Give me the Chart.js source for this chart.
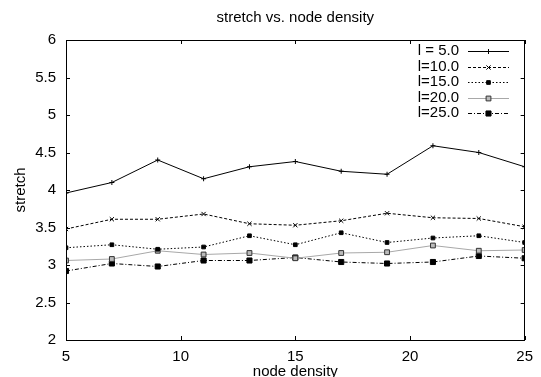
<!DOCTYPE html>
<html>
<head>
<meta charset="utf-8">
<script src="https://cdn.jsdelivr.net/npm/chart.js@4/dist/chart.umd.min.js"></script>
<style>
  html, body { margin: 0; padding: 0; background: #fff; }
  #wrap { width: 541px; height: 377px; }
</style>
</head>
<body>
<div id="wrap"><canvas id="c" width="541" height="377"></canvas></div>
<script>
const nodeDensity = [5, 7, 9, 11, 13, 15, 17, 19, 21, 23, 25];
const seriesLabels = ['l = 5.0', 'l=10.0', 'l=15.0', 'l=20.0', 'l=25.0'];
const l5  = [3.96, 4.10, 4.40, 4.15, 4.31, 4.38, 4.25, 4.21, 4.59, 4.50, 4.31];
const l10 = [3.48, 3.61, 3.61, 3.68, 3.55, 3.53, 3.59, 3.69, 3.63, 3.62, 3.51];
const l15 = [3.23, 3.27, 3.21, 3.24, 3.39, 3.27, 3.43, 3.30, 3.36, 3.39, 3.30];
const l20 = [3.06, 3.08, 3.19, 3.14, 3.16, 3.09, 3.16, 3.17, 3.26, 3.19, 3.20];
const l25 = [2.92, 3.02, 2.98, 3.06, 3.06, 3.10, 3.04, 3.02, 3.04, 3.12, 3.09];
const yTicks = [2, 2.5, 3, 3.5, 4, 4.5, 5, 5.5, 6];
const xTicks = [5, 10, 15, 20, 25];
const titleText = 'stretch vs. node density';
const xTitle = 'node density';
const yTitle = 'stretch';

const FONT = 'Liberation Sans, Arial, Helvetica, sans-serif';
const pts = arr => arr.map((v, i) => ({ x: nodeDensity[i], y: v }));

const styles = [
  { borderColor: '#000', borderDash: [], pointStyle: 'cross', pointRadius: 2.5, pointBackgroundColor: '#000', pointBorderColor: '#000' },
  { borderColor: '#000', borderDash: [3, 2], pointStyle: 'crossRot', pointRadius: 3, pointBackgroundColor: '#000', pointBorderColor: '#000' },
  { borderColor: '#000', borderDash: [1.5, 2], pointStyle: 'rect', pointRadius: 2.6, pointBackgroundColor: '#000', pointBorderColor: '#000' },
  { borderColor: '#a8a8a8', borderDash: [], pointStyle: 'rect', pointRadius: 3.4, pointBackgroundColor: '#bbb', pointBorderColor: '#333' },
  { borderColor: '#000', borderDash: [4, 2, 1, 2], pointStyle: 'rect', pointRadius: 3.6, pointBackgroundColor: '#000', pointBorderColor: '#000' }
];
const seriesData = [l5, l10, l15, l20, l25];

const datasets = seriesData.map((d, i) => Object.assign({
  label: seriesLabels[i],
  data: pts(d),
  borderWidth: 1,
  pointBorderWidth: 1,
  pointHoverRadius: 3,
  tension: 0,
  fill: false
}, styles[i]));

const frame = {
  id: 'frame',
  afterDatasetsDraw(chart) {
    const { ctx, chartArea: a, scales } = chart;
    ctx.save();
    ctx.strokeStyle = '#000';
    ctx.lineWidth = 1;
    ctx.setLineDash([]);
    ctx.strokeRect(Math.round(a.left) + 0.5, Math.round(a.top) + 0.5, Math.round(a.right - a.left) - 1, Math.round(a.bottom - a.top));
    const L = 4;
    ctx.beginPath();
    scales.x.ticks.forEach(t => {
      const px = Math.round(scales.x.getPixelForValue(t.value)) + 0.5;
      ctx.moveTo(px, a.bottom); ctx.lineTo(px, a.bottom - L);
      ctx.moveTo(px, a.top); ctx.lineTo(px, a.top + L);
    });
    scales.y.ticks.forEach(t => {
      const py = Math.round(scales.y.getPixelForValue(t.value)) + 0.5;
      ctx.moveTo(a.left, py); ctx.lineTo(a.left + L, py);
      ctx.moveTo(a.right, py); ctx.lineTo(a.right - L, py);
    });
    ctx.stroke();

    // key (legend) in upper right, text left of sample line
    ctx.font = '15px ' + FONT;
    ctx.textAlign = 'right';
    ctx.textBaseline = 'middle';
    chart.data.datasets.forEach((ds, i) => {
      const y = 51 + i * 15.5;
      const yy = Math.round(y) + 0.5;
      ctx.fillStyle = '#000';
      ctx.fillText(ds.label, 459, y);
      ctx.strokeStyle = ds.borderColor;
      ctx.lineWidth = 1;
      ctx.setLineDash(ds.borderDash || []);
      ctx.beginPath();
      ctx.moveTo(468, yy);
      ctx.lineTo(509, yy);
      ctx.stroke();
      ctx.setLineDash([]);
      ctx.fillStyle = ds.pointBackgroundColor;
      ctx.strokeStyle = ds.pointBorderColor;
      ctx.beginPath();
      Chart.helpers.drawPoint(ctx, { pointStyle: ds.pointStyle, radius: ds.pointRadius, borderWidth: 1 }, 488.5, yy);
    });
    ctx.restore();
  }
};

new Chart(document.getElementById('c'), {
  type: 'line',
  data: { datasets },
  plugins: [frame],
  options: {
    responsive: false,
    animation: false,
    events: [],
    layout: { padding: { left: 0, right: 14, top: 0, bottom: 0 } },
    plugins: {
      legend: { display: false },
      tooltip: { enabled: false },
      title: {
        display: true,
        text: titleText,
        fullSize: false,
        color: '#000',
        font: { family: FONT, size: 15, weight: 'normal', lineHeight: 1.2 },
        padding: { top: 9, bottom: 13 }
      }
    },
    scales: {
      x: {
        type: 'linear',
        min: 5, max: 25,
        afterBuildTicks: s => { s.ticks = xTicks.map(v => ({ value: v })); },
        afterFit: s => { s.height = 37; },
        grid: { display: false, drawTicks: false },
        border: { display: false },
        ticks: { color: '#000', padding: 8, maxRotation: 0, font: { family: FONT, size: 15 }, callback: v => String(v) },
        title: { display: true, text: xTitle, color: '#000', padding: 0, font: { family: FONT, size: 15, lineHeight: 0.7 } }
      },
      y: {
        type: 'linear',
        min: 2, max: 6,
        afterBuildTicks: s => { s.ticks = yTicks.map(v => ({ value: v })); },
        afterFit: s => { s.width = 66; },
        grid: { display: false, drawTicks: false },
        border: { display: false },
        ticks: { color: '#000', padding: 10, font: { family: FONT, size: 15 }, callback: v => String(v) },
        title: { display: true, text: yTitle, color: '#000', padding: { top: 12, bottom: 0 }, font: { family: FONT, size: 15, lineHeight: 1.2 } }
      }
    }
  }
});
</script>
</body>
</html>
